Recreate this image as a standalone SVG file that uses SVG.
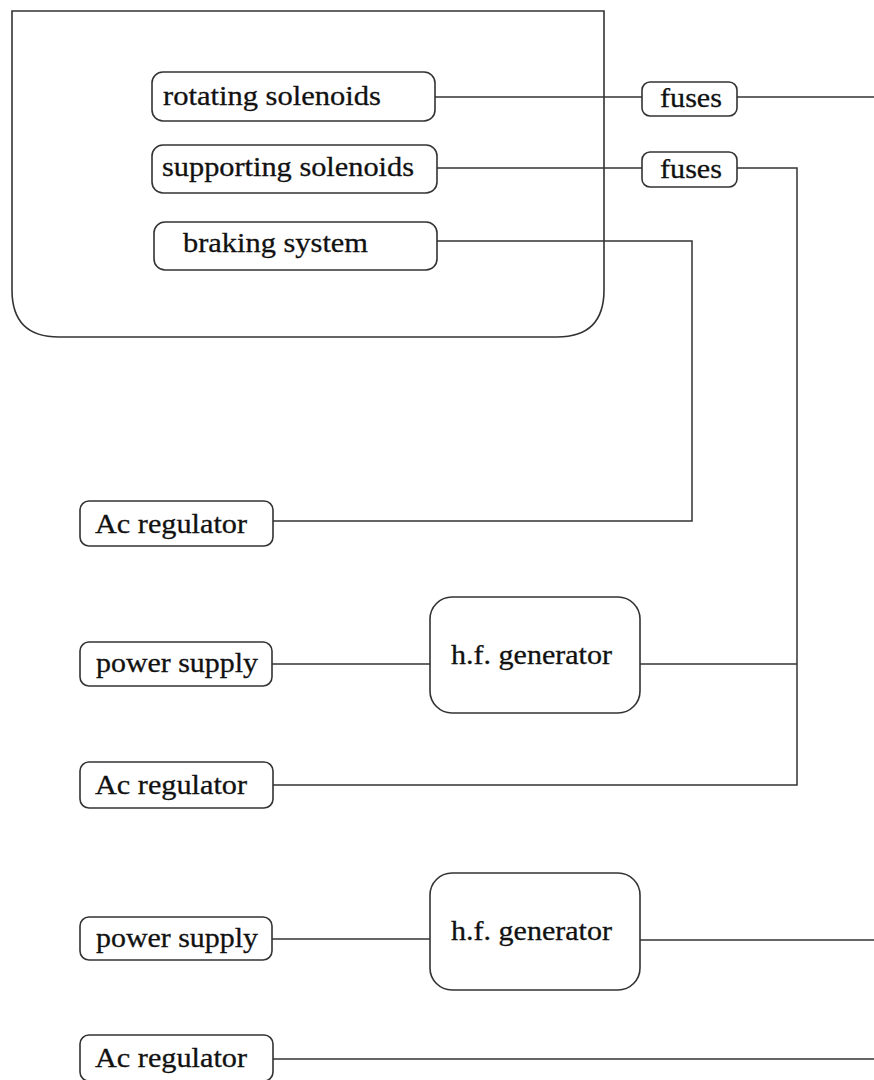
<svg xmlns="http://www.w3.org/2000/svg" width="874" height="1080" viewBox="0 0 874 1080">
<style>
.box{fill:#fff;stroke:#333;stroke-width:1.6}
.ln{fill:none;stroke:#333;stroke-width:1.5}
text{font-family:"Liberation Serif","Times New Roman",serif;font-size:28px;fill:#111;stroke:#111;stroke-width:0.3}
</style>
<rect width="874" height="1080" fill="#fff"/>
<g id="container">
<path class="box" d="M12 11 H604 V290 Q604 337 557 337 H59 Q12 337 12 290 Z"/>
</g>
<g id="connectors">
<path class="ln" d="M435 97 H642"/>
<path class="ln" d="M737 97 H874"/>
<path class="ln" d="M437 168 H642"/>
<path class="ln" d="M737 168 H797 V785 H273"/>
<path class="ln" d="M437 241 H692 V521 H273"/>
<path class="ln" d="M272 664 H430"/>
<path class="ln" d="M640 664 H797"/>
<path class="ln" d="M272 939 H430"/>
<path class="ln" d="M640 940 H874"/>
<path class="ln" d="M273 1059 H874"/>
</g>
<g id="rotating-solenoids">
<rect class="box" x="152" y="72" width="283" height="49" rx="11"/>
<text x="163" y="105" textLength="218" lengthAdjust="spacingAndGlyphs">rotating solenoids</text>
</g>
<g id="supporting-solenoids">
<rect class="box" x="152" y="145" width="285" height="48" rx="11"/>
<text x="162" y="176" textLength="252" lengthAdjust="spacingAndGlyphs">supporting solenoids</text>
</g>
<g id="braking-system">
<rect class="box" x="154" y="222" width="283" height="48" rx="11"/>
<text x="183" y="252" textLength="185" lengthAdjust="spacingAndGlyphs">braking system</text>
</g>
<g id="fuses-1">
<rect class="box" x="642" y="82" width="95" height="34" rx="8"/>
<text x="660" y="107" textLength="62" lengthAdjust="spacingAndGlyphs">fuses</text>
</g>
<g id="fuses-2">
<rect class="box" x="642" y="152" width="95" height="35" rx="8"/>
<text x="660" y="178" textLength="62" lengthAdjust="spacingAndGlyphs">fuses</text>
</g>
<g id="ac-regulator-1">
<rect class="box" x="80" y="501" width="193" height="45" rx="9"/>
<text x="95" y="533" textLength="152" lengthAdjust="spacingAndGlyphs">Ac regulator</text>
</g>
<g id="power-supply-1">
<rect class="box" x="80" y="642" width="192" height="44" rx="9"/>
<text x="96" y="672" textLength="162" lengthAdjust="spacingAndGlyphs">power supply</text>
</g>
<g id="hf-generator-1">
<rect class="box" x="430" y="597" width="210" height="116" rx="22"/>
<text x="451" y="664" textLength="161" lengthAdjust="spacingAndGlyphs">h.f. generator</text>
</g>
<g id="ac-regulator-2">
<rect class="box" x="80" y="762" width="193" height="46" rx="9"/>
<text x="95" y="794" textLength="152" lengthAdjust="spacingAndGlyphs">Ac regulator</text>
</g>
<g id="power-supply-2">
<rect class="box" x="80" y="917" width="192" height="43" rx="9"/>
<text x="96" y="947" textLength="162" lengthAdjust="spacingAndGlyphs">power supply</text>
</g>
<g id="hf-generator-2">
<rect class="box" x="430" y="873" width="210" height="117" rx="22"/>
<text x="451" y="940" textLength="161" lengthAdjust="spacingAndGlyphs">h.f. generator</text>
</g>
<g id="ac-regulator-3">
<rect class="box" x="80" y="1035" width="193" height="46" rx="9"/>
<text x="95" y="1067" textLength="152" lengthAdjust="spacingAndGlyphs">Ac regulator</text>
</g>
</svg>
